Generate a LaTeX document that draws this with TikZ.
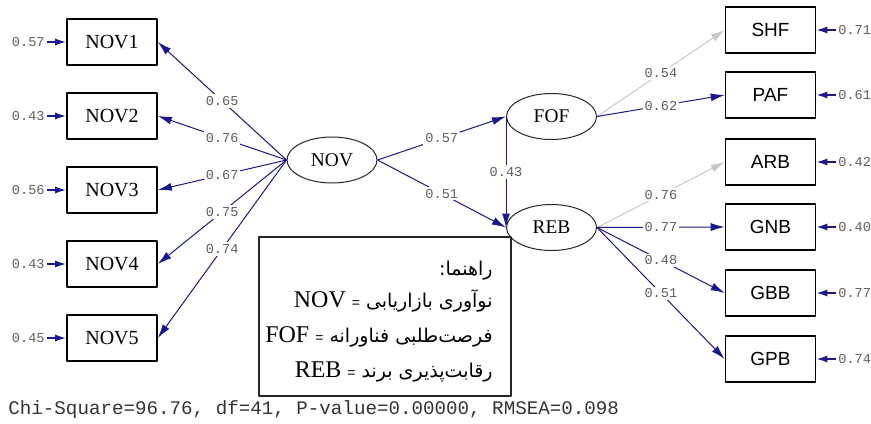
\documentclass[tikz,border=0pt]{standalone}
\usepackage{fontspec}
\setmainfont{Liberation Serif}
\setsansfont{Liberation Sans}
\setmonofont{Liberation Mono}
\newfontfamily\arabicfont[Script=Arabic]{DejaVu Sans}
\TeXXeTstate=1
\usetikzlibrary{arrows.meta,shapes.geometric}
\definecolor{pathblue}{RGB}{25,25,135}
\definecolor{fixgray}{RGB}{200,200,200}
\definecolor{numgray}{RGB}{95,95,95}

\begin{document}
\begin{tikzpicture}[x=0.5pt, y=-0.5pt, line join=round,
  obs/.style={draw=black, line width=0.8pt, minimum width=45pt, minimum height=23pt, inner sep=0pt},
  lat/.style={ellipse, draw=black!85, line width=0.5pt, minimum width=45pt, minimum height=23pt, inner sep=0pt, font=\fontsize{9.7}{11}\selectfont},
  load/.style={draw=pathblue, line width=0.5pt, -{Latex[length=7pt,width=4pt]}},
  fixed/.style={draw=fixgray, line width=0.5pt, -{Latex[length=7pt,width=4pt]}},
  coef/.style={fill=white, text=numgray, inner sep=1pt, font=\ttfamily\fontsize{6.8}{8}\selectfont},
  errnum/.style={text=numgray, inner sep=1pt, font=\ttfamily\fontsize{6.8}{8}\selectfont},
  err/.style={draw=pathblue, line width=0.8pt, -{Latex[length=5.5pt,width=3.5pt]}},
  legline/.style={anchor=base east, inner sep=0pt, font=\fontsize{12}{14}\selectfont}]
 \useasboundingbox (0,0) rectangle (871,423);
 % latent variables
 \node[lat] (nov) at (332,160) {NOV};
 \node[lat] (fof) at (551.5,116.5) {FOF};
 \node[lat] (reb) at (551.5,227.5) {REB};
 % NOV indicators
 \foreach \i/\y/\e/\l in {1/42/0.57/0.65, 2/116/0.43/0.76, 3/190/0.56/0.67, 4/264/0.43/0.75, 5/338/0.45/0.74} {
  \node[obs, font=\fontsize{10}{12}\selectfont] (nov\i) at (112,\y) {NOV\i};
  \node[errnum, anchor=east] (enov\i) at (47,\y) {\e};
  \draw[err] (enov\i.east) -- (nov\i.west);
  \draw[load] (nov.west) -- node[coef] {\l} (nov\i.east);
 }
 % FOF and REB indicators
 \foreach \n/\y/\e in {SHF/30/0.71, PAF/95/0.61, ARB/162/0.42, GNB/227/0.40, GBB/293/0.77, GPB/359/0.74} {
  \node[obs, font=\sffamily\fontsize{9.5}{11}\selectfont] (\n) at (770.5,\y) {\n};
  \node[errnum, anchor=west] (e\n) at (836,\y) {\e};
  \draw[err] (e\n.west) -- (\n.east);
 }
 \draw[load] (nov.east) -- node[coef] {0.57} (fof.west);
 \draw[load] (nov.east) -- node[coef] {0.51} (reb.west);
 \draw[load] (fof.west) -- node[coef] {0.43} (reb.west);
 \draw[fixed] (fof.east) -- node[coef] {0.54} (SHF.west);
 \draw[load] (fof.east) -- node[coef] {0.62} (PAF.west);
 \draw[fixed] (reb.east) -- node[coef] {0.76} (ARB.west);
 \draw[load] (reb.east) -- node[coef] {0.77} (GNB.west);
 \draw[load] (reb.east) -- node[coef] {0.48} (GBB.west);
 \draw[load] (reb.east) -- node[coef] {0.51} (GPB.west);
 % legend
 \node[draw=black!85, line width=0.8pt, minimum width=126pt, minimum height=79.5pt, inner sep=0pt] (legend) at (385,316.5) {};
 \node[legline] (leg0) at (493,275) {{\arabicfont\fontsize{9.5}{11}\selectfont\beginR راهنما:\endR}};
 \node[legline] (leg1) at (493,307) {NOV {\sffamily\fontsize{7}{8}\selectfont =} {\arabicfont\fontsize{9.5}{11}\selectfont\beginR نوآوری بازاریابی\endR}};
 \node[legline] (leg2) at (493,342) {FOF {\sffamily\fontsize{7}{8}\selectfont =} {\arabicfont\fontsize{9.5}{11}\selectfont\beginR فرصت‌طلبی فناورانه\endR}};
 \node[legline] (leg3) at (493,377) {REB {\sffamily\fontsize{7}{8}\selectfont =} {\arabicfont\fontsize{9.5}{11}\selectfont\beginR رقابت‌پذیری برند\endR}};
 % fit statistics
 \node[anchor=west, inner sep=0pt, text=black!80, font=\ttfamily\fontsize{9.6}{11}\selectfont] (fit) at (8,410) {Chi-Square=96.76, df=41, P-value=0.00000, RMSEA=0.098};
\end{tikzpicture}
\end{document}
